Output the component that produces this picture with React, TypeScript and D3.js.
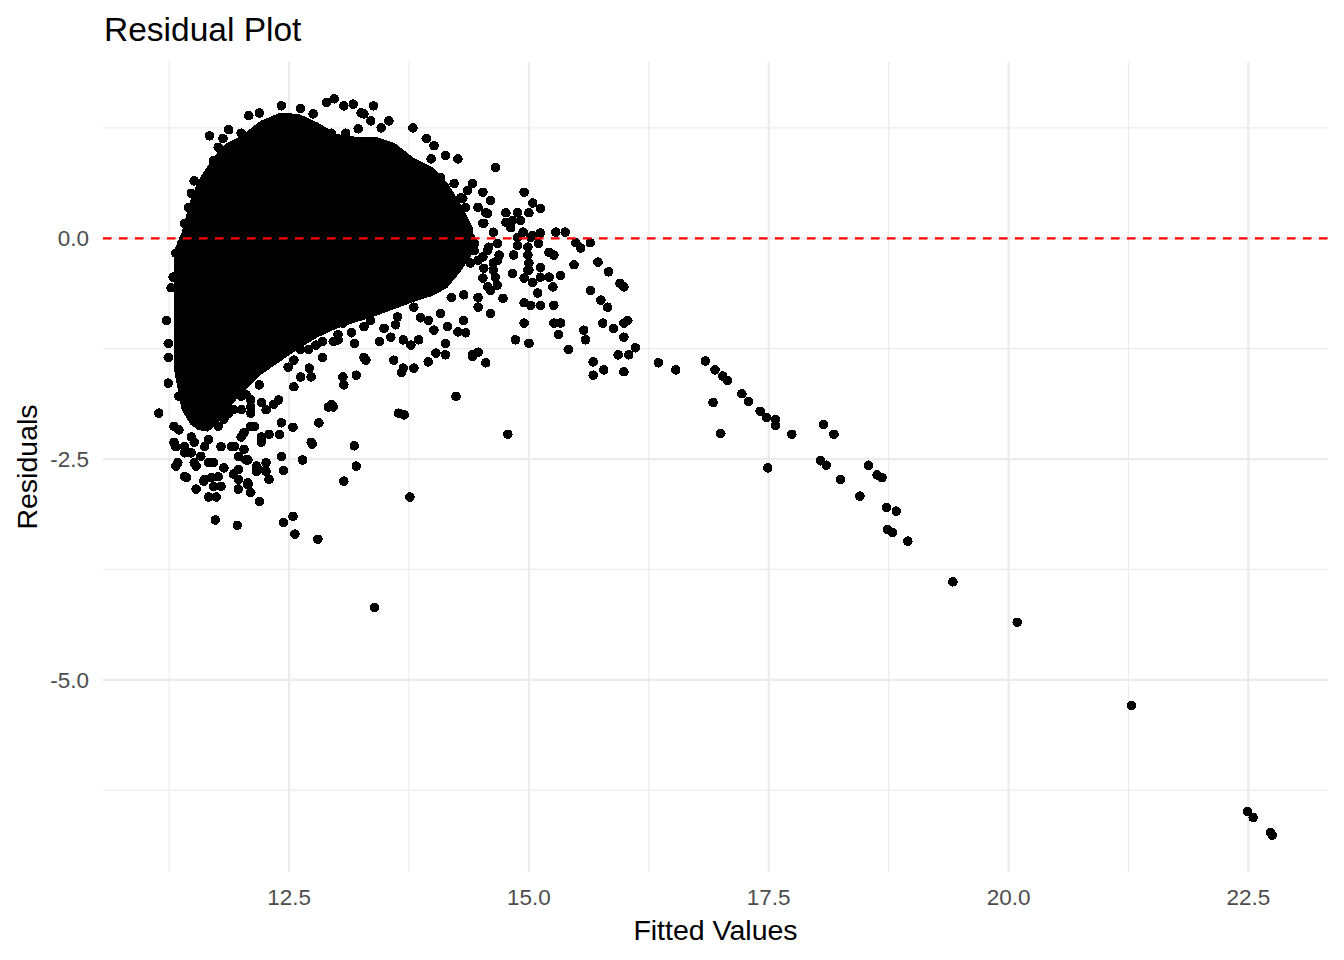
import { useEffect, useRef } from "react";
import * as d3 from "d3";

// axis breaks (ggplot style: major + minor)
const xBreaks = [12.5, 15.0, 17.5, 20.0, 22.5];
const xMinorBreaks = [11.25, 13.75, 16.25, 18.75, 21.25];
const yBreaks = [0, -2.5, -5.0];
const yMinorBreaks = [1.25, -1.25, -3.75, -6.25];

// solid black core of the cloud (where points fully overlap): upper / lower edge per fitted value
const coreFitted = [11.30, 11.38, 11.47, 11.55, 11.65, 11.75, 11.85, 12.0, 12.2, 12.4, 12.6, 12.8, 13.0, 13.2, 13.4, 13.6, 13.8, 14.0, 14.15, 14.3, 14.42];
const coreUpper = [-0.14, 0.07, 0.43, 0.65, 0.82, 0.97, 1.08, 1.16, 1.33, 1.42, 1.41, 1.31, 1.18, 1.15, 1.15, 1.08, 0.91, 0.80, 0.63, 0.37, 0.11];
const coreLower = [-1.49, -1.94, -2.11, -2.17, -2.19, -2.11, -1.94, -1.77, -1.55, -1.40, -1.25, -1.12, -1.02, -0.95, -0.88, -0.80, -0.72, -0.65, -0.56, -0.36, -0.16];

// [fitted, residual] points along the top / left edge of the cloud
const topEdge: [number, number][] = [
  [11.67, 1.16], [11.87, 1.23], [11.81, 1.13], [12.00, 1.19], [12.08, 1.39], [12.19, 1.42],
  [12.42, 1.50], [12.62, 1.47], [12.75, 1.41], [12.89, 1.54], [12.97, 1.58], [13.07, 1.50],
  [13.17, 1.52], [13.25, 1.42], [13.38, 1.50], [13.54, 1.33], [13.79, 1.25], [13.93, 1.13],
  [14.01, 1.05], [14.13, 0.94], [14.26, 0.90], [12.94, 1.19], [13.09, 1.19], [13.22, 1.24],
  [13.28, 1.41], [13.35, 1.33], [13.46, 1.25],
  [11.32, -0.17], [11.38, -0.06], [11.41, 0.17], [11.45, 0.35], [11.48, 0.51], [11.51, 0.65],
  [11.71, 0.88], [11.76, 1.03],
];

// points right of the core (fitted 14 - 16.5)
const shoulder: [number, number][] = [
  [14.65, 0.80], [14.41, 0.62], [14.52, 0.52], [14.60, 0.43], [14.34, 0.35], [14.55, 0.29],
  [14.76, 0.29], [14.88, 0.29], [14.95, 0.52], [15.04, 0.40], [15.12, 0.34], [14.76, 0.18],
  [14.91, 0.20], [14.53, 0.17], [14.63, 0.07], [14.94, 0.07], [15.04, 0.03], [15.12, 0.06],
  [15.28, 0.07], [15.38, 0.07], [15.49, -0.05], [15.54, -0.11], [15.64, -0.05], [14.88, -0.08],
  [14.99, -0.10], [15.10, -0.06], [15.21, -0.16], [15.26, -0.19], [14.84, -0.19], [14.69, -0.19],
  [14.58, -0.10], [14.43, -0.14], [15.47, -0.30], [15.72, -0.27], [15.83, -0.38], [15.95, -0.51],
  [15.99, -0.55], [15.33, -0.42], [15.12, -0.33], [15.00, -0.28], [15.00, -0.36], [14.83, -0.40],
  [15.12, -0.44], [15.21, -0.44], [15.04, -0.50], [15.25, -0.55], [15.09, -0.62], [14.95, -0.45],
  [14.63, -0.36], [14.65, -0.44], [14.53, -0.34], [14.67, -0.53], [14.60, -0.59], [14.73, -0.68],
  [14.95, -0.73], [15.02, -0.76], [15.12, -0.76], [15.26, -0.76], [15.64, -0.59], [15.75, -0.70],
  [15.82, -0.78], [14.32, -0.93], [14.60, -0.85], [14.95, -0.96], [15.26, -0.96], [15.33, -0.96],
  [15.31, -1.09], [14.86, -1.15], [15.00, -1.19], [15.41, -1.26], [15.57, -1.04], [15.59, -1.15],
  [15.77, -0.96], [15.88, -1.02], [15.99, -0.96], [16.03, -0.93], [15.99, -1.12], [15.93, -1.32],
  [16.04, -1.32], [16.11, -1.24], [15.67, -1.40], [15.78, -1.49], [15.67, -1.55], [15.99, -1.51],
  [16.35, -1.41], [16.53, -1.49], [14.41, -1.32], [14.55, -1.41], [14.34, -1.07],
  [13.98, 0.90], [14.08, 0.69], [14.22, 0.62], [14.36, 0.54], [14.31, 0.45], [14.47, 0.35],
  [14.57, 0.28], [14.52, 0.17], [14.81, 0.12], [14.39, 0.01], [14.47, -0.25], [14.67, -0.25],
  [14.29, 0.46], [15.00, 0.29], [14.83, 0.20], [14.99, -0.19], [14.67, -0.06], [14.88, 0.01],
  [15.02, 0.01], [14.99, -0.36], [14.57, -0.55], [14.52, -0.45], [14.63, -0.28], [14.57, -0.14],
  [14.52, -0.21], [14.39, -0.28], [14.29, -0.21], [14.26, -0.06], [14.43, -0.06],
];

// points just under the core (fitted 12.0 - 14.8)
const underCore: [number, number][] = [
  [12.96, -1.91], [13.06, -1.57], [13.07, -1.66], [13.20, -1.55], [13.30, -1.38], [13.59, -1.38],
  [13.69, -1.47], [13.67, -1.52], [13.80, -1.47], [13.95, -1.40], [14.03, -1.30], [14.13, -1.32],
  [14.13, -1.19], [14.24, -1.79], [14.41, -1.34], [14.47, -1.29], [14.47, -0.78], [14.26, -1.06],
  [14.15, -1.00], [14.01, -1.04], [13.85, -1.15], [13.77, -1.21], [13.69, -1.15], [13.44, -1.17],
  [13.49, -1.02], [13.56, -1.12], [13.18, -1.19], [13.28, -1.35], [13.01, -1.15], [14.47, -0.67],
  [14.32, -0.64], [14.19, -0.67], [14.08, -0.85], [13.95, -0.93], [13.80, -0.78], [13.63, -0.89],
  [13.35, -0.93], [13.18, -0.89], [13.43, -0.78], [13.28, -1.00], [13.06, -0.96], [13.01, -1.09],
  [13.64, -1.98], [13.70, -2.00], [13.76, -2.93], [14.78, -2.22],
  [12.62, -1.26], [12.78, -1.21], [13.15, -1.07], [13.61, -0.98], [13.87, -0.90], [12.19, -1.66],
  [12.05, -1.77], [11.92, -1.94],
];

// points below / left of the core (fitted 11.1 - 13.4)
const lowerLeft: [number, number][] = [
  [11.14, -1.98], [11.24, -1.64], [11.24, -1.35], [11.24, -1.19], [11.22, -0.93], [11.27, -0.56],
  [11.29, -0.44], [12.26, -1.94], [12.42, -2.09], [12.54, -2.14], [12.73, -2.31], [12.64, -2.51],
  [12.81, -2.09], [12.91, -1.91], [12.94, -1.88], [12.85, -1.35], [12.73, -1.57], [12.62, -1.57],
  [12.55, -1.68], [12.39, -1.83], [12.29, -2.22], [12.40, -2.22], [12.21, -2.28], [12.07, -2.51],
  [11.90, -2.36], [12.03, -2.39], [12.99, -0.96], [12.85, -1.17], [12.96, -1.17], [12.71, -1.47],
  [12.49, -1.46], [12.55, -1.38], [12.42, -1.26], [12.28, -1.12], [12.45, -1.12], [12.70, -1.26],
  [12.34, -1.88], [12.14, -2.13], [12.26, -2.54], [11.97, -2.47], [11.62, -2.36], [11.41, -2.43],
  [11.34, -2.54], [11.30, -2.31], [11.30, -2.13], [11.51, -2.54], [11.66, -2.54], [11.76, -2.13],
  [12.03, -2.20], [11.87, -1.98], [12.10, -1.98], [12.00, -1.79], [12.10, -1.83], [12.21, -1.86],
  [12.42, -2.47], [12.16, -2.58], [11.32, -2.36], [11.32, -2.58], [11.43, -2.71], [11.53, -2.84],
  [11.66, -2.93], [11.74, -2.93], [11.79, -2.81], [11.71, -2.81], [11.61, -2.75], [11.53, -2.58],
  [11.69, -2.71], [11.76, -2.70], [11.82, -2.60], [11.92, -2.36], [11.97, -2.62], [11.92, -2.67],
  [11.97, -2.73], [11.97, -2.84], [12.07, -2.79], [12.10, -2.88], [12.19, -2.98], [12.05, -2.51],
  [12.16, -2.64], [12.26, -2.64], [12.29, -2.73], [12.44, -2.63], [12.21, -2.31], [11.73, -3.19],
  [11.96, -3.25], [12.44, -3.22], [12.54, -3.15], [12.56, -3.35], [12.80, -3.41], [12.74, -2.33],
  [13.07, -2.75], [13.20, -2.58], [13.18, -2.35], [13.39, -4.18], [11.41, -2.36], [11.48, -2.43],
  [11.51, -2.31], [11.35, -1.79], [11.48, -1.91], [11.66, -1.98], [11.82, -2.05], [12.00, -1.94],
  [12.10, -1.91], [11.35, -2.17], [11.48, -2.25], [11.66, -2.28], [11.79, -2.36], [11.93, -2.36],
  [12.00, -2.25], [12.10, -2.13], [12.21, -2.25], [11.58, -2.47], [11.71, -2.54], [11.41, -2.70],
  [11.62, -2.73], [12.07, -2.77], [12.18, -2.62],
];

// the long diagonal tail (fitted 16.8 - 22.8)
const tail: [number, number][] = [
  [16.84, -1.39], [16.94, -1.49], [17.02, -1.56], [17.07, -1.61], [16.92, -1.86], [17.00, -2.21],
  [17.22, -1.76], [17.29, -1.85], [17.41, -1.96], [17.48, -2.03], [17.57, -2.05], [17.57, -2.12],
  [17.74, -2.22], [17.49, -2.60], [18.07, -2.11], [18.18, -2.22], [18.04, -2.52], [18.10, -2.57],
  [18.25, -2.73], [18.54, -2.57], [18.63, -2.68], [18.68, -2.71], [18.45, -2.92], [18.73, -3.05],
  [18.83, -3.09], [18.74, -3.30], [18.79, -3.33], [18.95, -3.43], [19.42, -3.89], [20.09, -4.35],
  [21.28, -5.29], [22.49, -6.49], [22.55, -6.56], [22.73, -6.73], [22.75, -6.76],
];

export default function App() {
  const svgRef = useRef<SVGSVGElement>(null);

  useEffect(() => {
    if (!svgRef.current) return;

    const width = 1344;
    const height = 960;
    const margin = { top: 62, right: 16, bottom: 88, left: 103 };
    const font = "'Liberation Sans', Arial, sans-serif";
    const gridColor = "#EBEBEB";
    const tickColor = "#4D4D4D";

    const svg = d3.select(svgRef.current);
    svg.selectAll("*").remove();

    const points = [...topEdge, ...shoulder, ...underCore, ...lowerLeft, ...tail];

    // ggplot-like 5% expansion around the data
    const [x0, x1] = d3.extent(points, d => d[0]) as [number, number];
    const [y0, y1] = d3.extent(points, d => d[1]) as [number, number];
    const xPad = (x1 - x0) * 0.05;
    const yPad = (y1 - y0) * 0.05;

    const xScale = d3.scaleLinear()
      .domain([x0 - xPad, x1 + xPad])
      .range([margin.left, width - margin.right]);
    const yScale = d3.scaleLinear()
      .domain([y0 - yPad, y1 + yPad])
      .range([height - margin.bottom, margin.top]);

    const [left, right] = xScale.range();
    const [bottom, top] = yScale.range();

    // grid
    const grid = svg.append("g");
    grid.selectAll(".xminor").data(xMinorBreaks).enter().append("line")
      .attr("x1", d => xScale(d)).attr("x2", d => xScale(d))
      .attr("y1", top).attr("y2", bottom)
      .attr("stroke", gridColor).attr("stroke-width", 1.2);
    grid.selectAll(".yminor").data(yMinorBreaks).enter().append("line")
      .attr("y1", d => yScale(d)).attr("y2", d => yScale(d))
      .attr("x1", left).attr("x2", right)
      .attr("stroke", gridColor).attr("stroke-width", 1.2);
    grid.selectAll(".xmajor").data(xBreaks).enter().append("line")
      .attr("x1", d => xScale(d)).attr("x2", d => xScale(d))
      .attr("y1", top).attr("y2", bottom)
      .attr("stroke", gridColor).attr("stroke-width", 2.2);
    grid.selectAll(".ymajor").data(yBreaks).enter().append("line")
      .attr("y1", d => yScale(d)).attr("y2", d => yScale(d))
      .attr("x1", left).attr("x2", right)
      .attr("stroke", gridColor).attr("stroke-width", 2.2);

    // solid core of overlapping points
    const area = d3.area<number>()
      .x((d, i) => xScale(coreFitted[i]))
      .y0((d, i) => yScale(coreLower[i]))
      .y1((d, i) => yScale(coreUpper[i]))
      .curve(d3.curveLinear);
    svg.append("path")
      .datum(coreFitted)
      .attr("d", area)
      .attr("fill", "#000")
      .attr("shape-rendering", "crispEdges");

    // points
    svg.append("g")
      .selectAll("circle")
      .data(points)
      .enter()
      .append("circle")
      .attr("cx", d => xScale(d[0]))
      .attr("cy", d => yScale(d[1]))
      .attr("r", 4.8)
      .attr("fill", "#000")
      .attr("shape-rendering", "crispEdges");

    // zero reference line
    svg.append("line")
      .attr("x1", left).attr("x2", right)
      .attr("y1", yScale(0)).attr("y2", yScale(0))
      .attr("stroke", "#FF0000")
      .attr("stroke-width", 2.2)
      .attr("stroke-dasharray", "8.5,7.5");

    // tick labels
    svg.append("g").selectAll("text").data(xBreaks).enter().append("text")
      .attr("x", d => xScale(d))
      .attr("y", bottom + 33)
      .attr("text-anchor", "middle")
      .attr("font-family", font)
      .attr("font-size", 22.5)
      .attr("fill", tickColor)
      .text(d => d.toFixed(1));

    svg.append("g").selectAll("text").data(yBreaks).enter().append("text")
      .attr("x", left - 14)
      .attr("y", d => yScale(d) + 8)
      .attr("text-anchor", "end")
      .attr("font-family", font)
      .attr("font-size", 22.5)
      .attr("fill", tickColor)
      .text(d => d.toFixed(1));

    // titles
    svg.append("text")
      .attr("x", (left + right) / 2)
      .attr("y", 940)
      .attr("text-anchor", "middle")
      .attr("font-family", font)
      .attr("font-size", 28.5)
      .attr("fill", "#000")
      .text("Fitted Values");

    svg.append("text")
      .attr("transform", `translate(37,${(top + bottom) / 2}) rotate(-90)`)
      .attr("text-anchor", "middle")
      .attr("font-family", font)
      .attr("font-size", 28.5)
      .attr("fill", "#000")
      .text("Residuals");

    svg.append("text")
      .attr("x", 104)
      .attr("y", 41)
      .attr("font-family", font)
      .attr("font-size", 33.5)
      .attr("fill", "#000")
      .text("Residual Plot");
  }, []);

  return (
    <svg
      ref={svgRef}
      width={1344}
      height={960}
      style={{ position: "absolute", left: 0, top: 0, background: "#fff" }}
    />
  );
}
